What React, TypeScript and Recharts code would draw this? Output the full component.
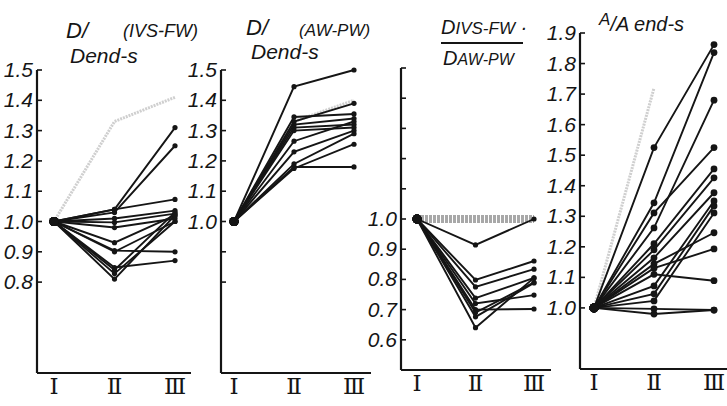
import { LineChart, Line, XAxis, YAxis } from "recharts";

const stages = ["I", "II", "III"];
const romanLabels = ["Ⅰ", "Ⅱ", "Ⅲ"];

// D / Dend-s (IVS-FW)
const ivsFwSeries = [
  [1.0, 1.04, 1.31],
  [1.0, 1.03, 1.25],
  [1.0, 1.04, 1.073],
  [1.0, 1.01, 1.036],
  [1.0, 0.997, 1.026],
  [1.0, 0.98, 1.01],
  [1.0, 0.93, 1.02],
  [1.0, 0.904, 0.9],
  [1.0, 0.9, 1.0],
  [1.0, 0.848, 0.871],
  [1.0, 0.84, 1.03],
  [1.0, 0.828, 1.0],
  [1.0, 0.81, 1.02],
];
const ivsFwFaint = [1.0, 1.33, 1.41];

// D / Dend-s (AW-PW)
const awPwSeries = [
  [1.0, 1.445, 1.5],
  [1.0, 1.345, 1.355],
  [1.0, 1.33, 1.39],
  [1.0, 1.32, 1.34],
  [1.0, 1.31, 1.32],
  [1.0, 1.3, 1.31],
  [1.0, 1.265, 1.33],
  [1.0, 1.23, 1.3],
  [1.0, 1.19, 1.29],
  [1.0, 1.175, 1.255],
  [1.0, 1.18, 1.18],
];
const awPwFaint = [1.0, 1.33, 1.4];

// D IVS-FW / D AW-PW
const ratioSeries = [
  [1.0, 0.914, 1.0],
  [1.0, 0.798, 0.861],
  [1.0, 0.775, 0.834],
  [1.0, 0.738, 0.805],
  [1.0, 0.72, 0.748],
  [1.0, 0.7, 0.702],
  [1.0, 0.69, 0.79],
  [1.0, 0.676, 0.788],
  [1.0, 0.64, 0.805],
];
const ratioBand = [1.0, 1.0, 1.0];

// A / A end-s
const areaSeries = [
  [1.0, 1.525, 1.862],
  [1.0, 1.344, 1.836],
  [1.0, 1.311, 1.525],
  [1.0, 1.262, 1.68],
  [1.0, 1.21, 1.455],
  [1.0, 1.19, 1.426],
  [1.0, 1.164, 1.377],
  [1.0, 1.144, 1.246],
  [1.0, 1.13, 1.193],
  [1.0, 1.11, 1.089],
  [1.0, 1.072, 1.35],
  [1.0, 1.046, 1.334],
  [1.0, 1.023, 1.311],
  [1.0, 0.997, 0.993],
  [1.0, 0.98, 0.993],
];
const areaFaint = [1.0, 1.72, null];

const buildRows = (series: number[][], faint: (number | null)[] | null) =>
  stages.map((stage, i) => {
    const row: Record<string, any> = { stage };
    series.forEach((s, k) => (row["s" + k] = s[i]));
    if (faint) row.faint = faint[i];
    return row;
  });

const ink = "#151515";
const font = "'Liberation Sans', Arial, sans-serif";

const YTick = (props: any) => {
  const { x, y, payload, labels } = props;
  const v = payload.value;
  const show = labels.some((l: number) => Math.abs(l - v) < 1e-6);
  return (
    <g>
      <line x1={x} x2={x + 5} y1={y} y2={y} stroke={ink} strokeWidth={1.6} />
      {show && (
        <text
          x={x - 4}
          y={y}
          dy={7}
          textAnchor="end"
          fontSize={21}
          fontStyle="italic"
          fontFamily={font}
          fill={ink}
          style={{ fontStyle: "italic" }}
        >
          {v.toFixed(1)}
        </text>
      )}
    </g>
  );
};

const XTick = (props: any) => {
  const { x, y, index } = props;
  return (
    <text x={x} y={y} dy={17} textAnchor="middle" fontSize={23} fontFamily="'DejaVu Serif', serif" fill={ink}>
      {romanLabels[index]}
    </text>
  );
};

type PanelProps = {
  left: number;
  axisX: number;
  right: number;
  top: number;
  bottom: number;
  domain: [number, number];
  ticks: number[];
  labels: number[];
  series: number[][];
  faint: (number | null)[] | null;
  band?: number[];
  padL: number;
  padR: number;
  dotR: number;
};

const Panel = (p: PanelProps) => {
  const rows = buildRows(p.series, p.faint);
  if (p.band) rows.forEach((r, i) => (r.band = p.band![i]));
  const renderDot = (dp: any) => {
    const { cx, cy, index } = dp;
    if (cx == null || cy == null) return <g key={dp.key} />;
    return <circle key={dp.key} cx={cx} cy={cy} r={index === 0 ? 4.5 : p.dotR} fill={ink} />;
  };
  return (
    <div style={{ position: "absolute", left: p.left, top: 0 }}>
      <LineChart
        width={p.right - p.left}
        height={406}
        data={rows}
        margin={{ top: p.top, right: 0, bottom: 0, left: 0 }}
      >
        <XAxis
          dataKey="stage"
          padding={{ left: p.padL, right: p.padR }}
          axisLine={{ stroke: ink, strokeWidth: 2.2 }}
          tickLine={false}
          tickSize={0}
          tickMargin={4}
          height={406 - p.bottom}
          tick={<XTick />}
          interval={0}
        />
        <YAxis
          type="number"
          domain={p.domain}
          ticks={p.ticks}
          width={p.axisX - p.left}
          axisLine={{ stroke: ink, strokeWidth: 2.2 }}
          tickLine={false}
          tickSize={0}
          tickMargin={0}
          tick={<YTick labels={p.labels} />}
        />
        {p.band && (
          <Line dataKey="band" stroke="#a8a8a8" strokeWidth={8} strokeDasharray="3 1" dot={false} isAnimationActive={false} />
        )}
        {p.faint && (
          <Line dataKey="faint" stroke="#cfcfcf" strokeWidth={3} strokeDasharray="2 1" dot={false} isAnimationActive={false} />
        )}
        {p.series.map((_, k) => (
          <Line
            key={k}
            dataKey={"s" + k}
            type="linear"
            stroke={ink}
            strokeWidth={1.9}
            dot={renderDot}
            activeDot={false}
            isAnimationActive={false}
          />
        ))}
      </LineChart>
    </div>
  );
};

const titleStyle: React.CSSProperties = {
  position: "absolute",
  fontFamily: font,
  fontStyle: "italic",
  color: ink,
  whiteSpace: "nowrap",
  lineHeight: 1,
};

export default function App() {
  return (
    <div style={{ position: "absolute", left: 0, top: 0, width: 727, height: 406, background: "#fff", overflow: "hidden" }}>
      <Panel
        left={0} axisX={37} right={191} top={70} bottom={373}
        domain={[0.5, 1.5]}
        ticks={[0.8, 0.9, 1.0, 1.1, 1.2, 1.3, 1.4, 1.5]}
        labels={[0.8, 0.9, 1.0, 1.1, 1.2, 1.3, 1.4, 1.5]}
        series={ivsFwSeries} faint={ivsFwFaint} padL={17} padR={16} dotR={2.6}
      />
      <Panel
        left={185} axisX={221} right={371} top={70} bottom={373}
        domain={[0.5, 1.5]}
        ticks={[0.8, 0.9, 1.0, 1.1, 1.2, 1.3, 1.4, 1.5]}
        labels={[1.0, 1.1, 1.2, 1.3, 1.4, 1.5]}
        series={awPwSeries} faint={awPwFaint} padL={13} padR={17} dotR={2.6}
      />
      <Panel
        left={365} axisX={401} right={551} top={68} bottom={370}
        domain={[0.5, 1.5]}
        ticks={[0.6, 0.7, 0.8, 0.9, 1.0, 1.1, 1.2, 1.3, 1.4, 1.5]}
        labels={[0.6, 0.7, 0.8, 0.9, 1.0]}
        series={ratioSeries} faint={null} band={ratioBand} padL={16} padR={17} dotR={2.6}
      />
      <Panel
        left={545} axisX={580} right={727} top={33} bottom={369}
        domain={[0.8, 1.9]}
        ticks={[1.0, 1.1, 1.2, 1.3, 1.4, 1.5, 1.6, 1.7, 1.8, 1.9]}
        labels={[1.0, 1.1, 1.2, 1.3, 1.4, 1.5, 1.6, 1.7, 1.8, 1.9]}
        series={areaSeries} faint={areaFaint} padL={14} padR={13} dotR={3.4}
      />

      {/* titles */}
      <div style={{ ...titleStyle, left: 66, top: 20, fontSize: 22 }}>D/</div>
      <div style={{ ...titleStyle, left: 70, top: 45, fontSize: 21 }}>Dend-s</div>
      <div style={{ ...titleStyle, left: 123, top: 22, fontSize: 18 }}>(IVS-FW)</div>

      <div style={{ ...titleStyle, left: 246, top: 17, fontSize: 22 }}>D/</div>
      <div style={{ ...titleStyle, left: 251, top: 41, fontSize: 21 }}>Dend-s</div>
      <div style={{ ...titleStyle, left: 299, top: 22, fontSize: 17 }}>(AW-PW)</div>

      <div style={{ ...titleStyle, left: 441, top: 17, fontSize: 20 }}>
        D<span style={{ fontSize: 17 }}>IVS-FW</span> ·
      </div>
      <div style={{ position: "absolute", left: 441, top: 42, width: 82, height: 2, background: ink }} />
      <div style={{ ...titleStyle, left: 443, top: 48, fontSize: 20 }}>
        D<span style={{ fontSize: 16 }}>AW-PW</span>
      </div>

      <div style={{ ...titleStyle, left: 599, top: 14, fontSize: 20 }}>
        <span style={{ fontSize: 17, position: "relative", top: -6 }}>A</span>/A end-s
      </div>
    </div>
  );
}
